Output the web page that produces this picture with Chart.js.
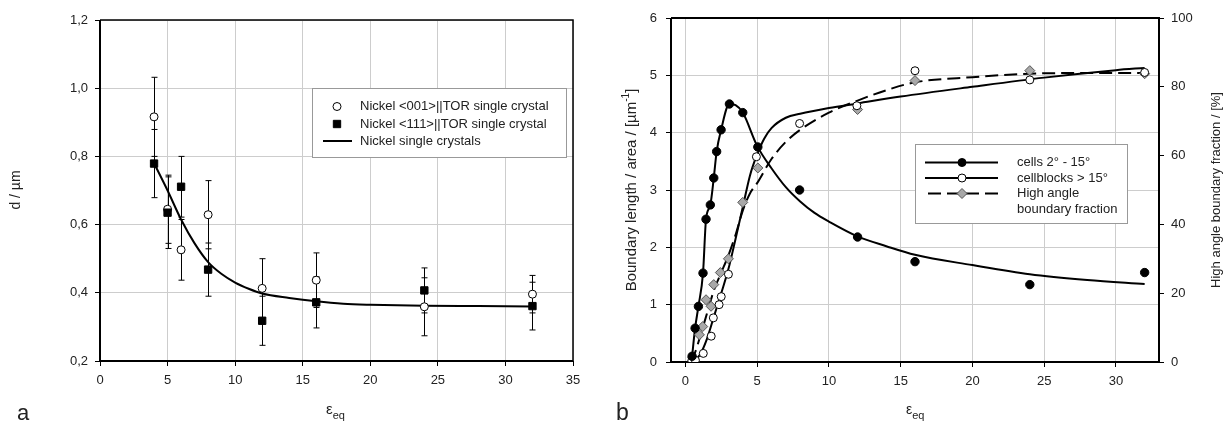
<!DOCTYPE html>
<html><head><meta charset="utf-8">
<script src="https://cdn.jsdelivr.net/npm/chart.js@4.4.1/dist/chart.umd.min.js"></script>
<style>
html,body{margin:0;padding:0;background:#fff;}
#wrap{position:relative;width:1223px;height:426px;overflow:hidden;}
.pane{position:absolute;top:0;}
</style></head><body>
<div id="wrap">
  <div class="pane" style="left:0;width:600px;height:426px"><canvas id="ca" width="600" height="426"></canvas></div>
  <div class="pane" style="left:600px;width:623px;height:426px"><canvas id="cb" width="623" height="426"></canvas></div>
</div>
<script>
// ---------------- Panel a data ----------------
const aX = [4, 5, 6, 8, 12, 16, 24, 32];
const aD001 = [0.916, 0.645, 0.526, 0.629, 0.413, 0.437, 0.359, 0.396];
const aErr001 = [0.116, 0.100, 0.089, 0.100, 0.087, 0.080, 0.085, 0.055];
const aD111 = [0.779, 0.635, 0.711, 0.468, 0.318, 0.372, 0.407, 0.361];
const aErr111 = [0.100, 0.105, 0.089, 0.078, 0.072, 0.075, 0.066, 0.070];
const aFitX = [4, 5, 6, 7, 8, 9, 10, 11, 12, 14, 16, 18, 20, 24, 28, 32];
const aFitD = [0.78, 0.70, 0.615, 0.545, 0.49, 0.455, 0.43, 0.412, 0.398, 0.385, 0.375, 0.368, 0.365, 0.362, 0.361, 0.36];
const aXTicks = [0, 5, 10, 15, 20, 25, 30, 35];
const aYTicks = [0.2, 0.4, 0.6, 0.8, 1.0, 1.2];

// ---------------- Panel b data ----------------
const bCellsX = [0.47, 0.68, 0.91, 1.23, 1.44, 1.74, 1.98, 2.18, 2.49, 3.07, 4.0, 5.05, 7.96, 12.0, 16.0, 24.0, 32.0];
const bCellsY = [0.10, 0.59, 0.97, 1.55, 2.49, 2.74, 3.21, 3.67, 4.05, 4.50, 4.35, 3.75, 3.00, 2.18, 1.75, 1.35, 1.56];
const bCellsLineX = [0.47, 0.68, 0.91, 1.23, 1.44, 1.74, 1.98, 2.18, 2.49, 3.07, 3.5, 4.0, 5.0, 6.0, 7.0, 8.0, 9.0, 10, 12, 14, 16, 20, 24, 28, 32];
const bCellsLineY = [0.10, 0.59, 0.97, 1.55, 2.49, 2.74, 3.21, 3.67, 4.05, 4.50, 4.48, 4.35, 3.77, 3.38, 3.05, 2.80, 2.60, 2.45, 2.19, 2.02, 1.87, 1.69, 1.53, 1.43, 1.36];
const bBlocksX = [0.45, 0.7, 1.25, 1.8, 1.95, 2.35, 2.5, 3.0, 4.95, 7.96, 11.95, 16.0, 24.0, 32.0];
const bBlocksY = [0.02, 0.03, 0.15, 0.45, 0.77, 1.0, 1.14, 1.53, 3.58, 4.16, 4.47, 5.08, 4.92, 5.05];
const bBlocksLineX = [0.45, 1.0, 1.5, 2.0, 2.5, 3.0, 3.5, 4.0, 4.5, 5.0, 5.5, 6.0, 7.0, 8.0, 10, 12, 15, 20, 25, 30, 32];
const bBlocksLineY = [0.0, 0.12, 0.40, 0.80, 1.20, 1.62, 2.15, 2.70, 3.25, 3.62, 3.90, 4.08, 4.26, 4.33, 4.43, 4.51, 4.63, 4.80, 4.96, 5.09, 5.13];
const bHabX = [0.51, 0.98, 1.21, 1.44, 1.79, 1.98, 2.44, 3.0, 4.0, 5.05, 12.0, 16.0, 24.0, 32.0];
const bHabY = [1.2, 7.9, 10.3, 18.1, 16.2, 22.5, 26.0, 30.0, 46.4, 56.4, 73.4, 81.8, 84.7, 83.8];
const bHabLineX = [0.4, 0.7, 1.0, 1.5, 2.0, 2.5, 3.0, 3.5, 4.0, 4.5, 5.0, 6.0, 7.0, 8.0, 10, 12, 14, 16, 20, 24, 28, 32];
const bHabLineY = [0, 3, 7, 14, 21, 26, 31, 37, 44, 49, 52, 59, 64, 67.5, 72.5, 76, 79, 81.3, 82.8, 83.8, 84, 84];
const bXTicks = [0, 5, 10, 15, 20, 25, 30];
const bYTicks = [0, 1, 2, 3, 4, 5, 6];
const bY2Ticks = [0, 20, 40, 60, 80, 100];

const FONT = "'Liberation Sans', Arial, Helvetica, sans-serif";
const TXT = '#222';
const pts = (xs, ys) => xs.map((x, i) => ({x: x, y: ys[i]}));
const setTicks = arr => (s => { s.ticks = arr.map(v => ({value: v})); });

// error bars
const errorBars = {
  id: 'errorBars',
  beforeDatasetsDraw(chart) {
    const ctx = chart.ctx, x = chart.scales.x, y = chart.scales.y;
    ctx.save(); ctx.strokeStyle = '#000'; ctx.lineWidth = 1;
    chart.data.datasets.forEach(ds => {
      if (!ds.errs) return;
      ds.data.forEach((p, i) => {
        const px = Math.round(x.getPixelForValue(p.x)) + 0.5;
        const t = y.getPixelForValue(p.y + ds.errs[i]);
        const b = y.getPixelForValue(p.y - ds.errs[i]);
        ctx.beginPath();
        ctx.moveTo(px, t); ctx.lineTo(px, b);
        ctx.moveTo(px - 3, t); ctx.lineTo(px + 3, t);
        ctx.moveTo(px - 3, b); ctx.lineTo(px + 3, b);
        ctx.stroke();
      });
    });
    ctx.restore();
  }
};

function frame(thinTR) {
  return {
    id: 'frame',
    beforeDatasetsDraw(chart) {
      const ctx = chart.ctx, a = chart.chartArea;
      ctx.save(); ctx.strokeStyle = '#000';
      ctx.lineWidth = thinTR ? 1.5 : 2;
      ctx.beginPath();
      ctx.moveTo(a.left, a.top); ctx.lineTo(a.right, a.top); ctx.lineTo(a.right, a.bottom);
      ctx.stroke();
      ctx.lineWidth = 2;
      ctx.beginPath();
      ctx.moveTo(a.left, a.top); ctx.lineTo(a.left, a.bottom); ctx.lineTo(a.right, a.bottom);
      ctx.stroke();
      ctx.restore();
    }
  };
}

function drawParts(ctx, x, y, parts, rotate, center) {
  ctx.save();
  ctx.translate(x, y);
  if (rotate) ctx.rotate(-Math.PI / 2);
  ctx.textBaseline = 'middle';
  ctx.textAlign = 'left';
  ctx.fillStyle = TXT;
  let total = 0;
  parts.forEach(p => { ctx.font = p.font; total += ctx.measureText(p.text).width; });
  let cx = center ? -total / 2 : 0;
  parts.forEach(p => { ctx.font = p.font; ctx.fillText(p.text, cx, p.dy || 0); cx += ctx.measureText(p.text).width; });
  ctx.restore();
}

function drawMarker(ctx, style, x, y, r, fill, stroke) {
  ctx.save();
  ctx.fillStyle = fill; ctx.strokeStyle = stroke; ctx.lineWidth = 1;
  ctx.beginPath();
  if (style === 'circle') { ctx.arc(x, y, r, 0, Math.PI * 2); }
  else if (style === 'rect') { const s = r * Math.SQRT1_2; ctx.rect(x - s, y - s, 2 * s, 2 * s); }
  else if (style === 'rectRot') { ctx.moveTo(x, y - r); ctx.lineTo(x + r, y); ctx.lineTo(x, y + r); ctx.lineTo(x - r, y); ctx.closePath(); }
  ctx.fill(); ctx.stroke();
  ctx.restore();
}

// ---------- Panel a texts & legend ----------
const textsA = {
  id: 'textsA',
  afterDraw(chart) {
    const ctx = chart.ctx;
    drawParts(ctx, 16, 190, [{text: 'd / µm', font: '14px ' + FONT}], true, true);
    drawParts(ctx, 326, 410, [{text: 'ε', font: '15px ' + FONT}, {text: 'eq', font: '11px ' + FONT, dy: 6}], false, false);
    drawParts(ctx, 17, 414, [{text: 'a', font: '22px ' + FONT}], false, false);
    // legend
    ctx.save();
    ctx.fillStyle = '#fff'; ctx.strokeStyle = '#999'; ctx.lineWidth = 1;
    ctx.fillRect(312, 88, 255, 70); ctx.strokeRect(312.5, 88.5, 254, 69);
    ctx.restore();
    drawMarker(ctx, 'circle', 337, 106.5, 4, '#fff', '#000');
    drawMarker(ctx, 'rect', 337, 124, 5.2, '#000', '#000');
    ctx.save(); ctx.strokeStyle = '#000'; ctx.lineWidth = 2;
    ctx.beginPath(); ctx.moveTo(323, 141); ctx.lineTo(352, 141); ctx.stroke(); ctx.restore();
    const f = '13px ' + FONT;
    drawParts(ctx, 360, 106.5, [{text: 'Nickel <001>||TOR single crystal', font: f}], false, false);
    drawParts(ctx, 360, 124, [{text: 'Nickel <111>||TOR single crystal', font: f}], false, false);
    drawParts(ctx, 360, 141, [{text: 'Nickel single crystals', font: f}], false, false);
  }
};

// ---------- Panel b texts & legend ----------
const textsB = {
  id: 'textsB',
  afterDraw(chart) {
    const ctx = chart.ctx;
    drawParts(ctx, 32, 190, [
      {text: 'Boundary length / area / [µm', font: '15px ' + FONT},
      {text: '-1', font: '10px ' + FONT, dy: -6},
      {text: ']', font: '15px ' + FONT}], true, true);
    drawParts(ctx, 616, 190, [{text: 'High angle boundary fraction / [%]', font: '13px ' + FONT}], true, true);
    drawParts(ctx, 306, 410, [{text: 'ε', font: '14px ' + FONT}, {text: 'eq', font: '11px ' + FONT, dy: 6}], false, false);
    drawParts(ctx, 16, 414, [{text: 'b', font: '23px ' + FONT}], false, false);
    // legend
    ctx.save();
    ctx.fillStyle = '#fff'; ctx.strokeStyle = '#999'; ctx.lineWidth = 1;
    ctx.fillRect(315, 144, 213, 80); ctx.strokeRect(315.5, 144.5, 212, 79);
    ctx.strokeStyle = '#000'; ctx.lineWidth = 2;
    ctx.beginPath(); ctx.moveTo(325, 162.5); ctx.lineTo(398, 162.5); ctx.stroke();
    ctx.beginPath(); ctx.moveTo(325, 178); ctx.lineTo(398, 178); ctx.stroke();
    ctx.setLineDash([13, 6]);
    ctx.beginPath(); ctx.moveTo(328, 193.5); ctx.lineTo(398, 193.5); ctx.stroke();
    ctx.restore();
    drawMarker(ctx, 'circle', 362, 162.5, 4, '#000', '#000');
    drawMarker(ctx, 'circle', 362, 178, 4, '#fff', '#000');
    drawMarker(ctx, 'rectRot', 362, 193.5, 5, '#a8a8a8', '#555');
    const f = '13px ' + FONT;
    drawParts(ctx, 417, 162.5, [{text: 'cells 2° - 15°', font: f}], false, false);
    drawParts(ctx, 417, 178, [{text: 'cellblocks > 15°', font: f}], false, false);
    drawParts(ctx, 417, 193.5, [{text: 'High angle', font: f}], false, false);
    drawParts(ctx, 417, 209, [{text: 'boundary fraction', font: f}], false, false);
  }
};

const tickFont = {family: FONT, size: 13};
const gridCfg = {color: '#cdcdcd', lineWidth: 1, tickColor: '#000', tickLength: 5, tickWidth: 1};

new Chart(document.getElementById('ca'), {
  type: 'scatter',
  data: {datasets: [
    {label: 'Nickel <111>||TOR single crystal', data: pts(aX, aD111), errs: aErr111, pointStyle: 'rect', pointRadius: 5.2,
     backgroundColor: '#000', borderColor: '#000', borderWidth: 1, showLine: false},
    {label: 'Nickel <001>||TOR single crystal', data: pts(aX, aD001), errs: aErr001, pointStyle: 'circle', pointRadius: 4,
     backgroundColor: '#fff', borderColor: '#000', borderWidth: 1, showLine: false},
    {label: 'Nickel single crystals', data: pts(aFitX, aFitD), showLine: true, pointRadius: 0, borderColor: '#000',
     borderWidth: 2, cubicInterpolationMode: 'monotone', fill: false}
  ]},
  options: {
    responsive: false, animation: false, events: [],
    layout: {padding: {left: 0, right: 27, top: 20, bottom: 0}},
    plugins: {legend: {display: false}, tooltip: {enabled: false}},
    scales: {
      x: {type: 'linear', min: 0, max: 35, afterBuildTicks: setTicks(aXTicks), afterFit: s => { s.height = 65; },
          grid: gridCfg, border: {display: false},
          ticks: {font: tickFont, color: TXT, padding: 7, maxRotation: 0, autoSkip: false, callback: v => String(v)}},
      y: {type: 'linear', min: 0.2, max: 1.2, afterBuildTicks: setTicks(aYTicks), afterFit: s => { s.width = 100; },
          grid: gridCfg, border: {display: false},
          ticks: {font: tickFont, color: TXT, padding: 7, autoSkip: false, callback: v => v.toFixed(1).replace('.', ',')}}
    }
  },
  plugins: [errorBars, frame(true), textsA]
});

new Chart(document.getElementById('cb'), {
  type: 'scatter',
  data: {datasets: [
    {label: 'cells 2° - 15°', data: pts(bCellsX, bCellsY), pointStyle: 'circle', pointRadius: 4.2,
     backgroundColor: '#000', borderColor: '#000', borderWidth: 1, showLine: false},
    {label: 'cellblocks > 15°', data: pts(bBlocksX, bBlocksY), pointStyle: 'circle', pointRadius: 4,
     backgroundColor: '#fff', borderColor: '#000', borderWidth: 1, showLine: false},
    {label: 'High angle boundary fraction', data: pts(bHabX, bHabY), yAxisID: 'y2', pointStyle: 'rectRot', pointRadius: 5,
     backgroundColor: '#a8a8a8', borderColor: '#555', borderWidth: 1, showLine: false},
    {label: 'cells line', data: pts(bCellsLineX, bCellsLineY), showLine: true, pointRadius: 0, borderColor: '#000',
     borderWidth: 2, cubicInterpolationMode: 'monotone'},
    {label: 'cellblocks line', data: pts(bBlocksLineX, bBlocksLineY), showLine: true, pointRadius: 0, borderColor: '#000',
     borderWidth: 2, cubicInterpolationMode: 'monotone'},
    {label: 'HAB line', data: pts(bHabLineX, bHabLineY), yAxisID: 'y2', showLine: true, pointRadius: 0, borderColor: '#000',
     borderWidth: 2, borderDash: [13, 6], cubicInterpolationMode: 'monotone'}
  ]},
  options: {
    responsive: false, animation: false, events: [],
    layout: {padding: {left: 0, right: 0, top: 18, bottom: 0}},
    plugins: {legend: {display: false}, tooltip: {enabled: false}},
    scales: {
      x: {type: 'linear', min: -1, max: 33, afterBuildTicks: setTicks(bXTicks), afterFit: s => { s.height = 64; },
          grid: gridCfg, border: {display: false},
          ticks: {font: tickFont, color: TXT, padding: 7, maxRotation: 0, autoSkip: false, callback: v => String(v)}},
      y: {type: 'linear', position: 'left', min: 0, max: 6, afterBuildTicks: setTicks(bYTicks), afterFit: s => { s.width = 71; },
          grid: gridCfg, border: {display: false},
          ticks: {font: tickFont, color: TXT, padding: 9, autoSkip: false, callback: v => String(v)}},
      y2: {type: 'linear', position: 'right', min: 0, max: 100, afterBuildTicks: setTicks(bY2Ticks), afterFit: s => { s.width = 64; },
          grid: {drawOnChartArea: false, color: '#000', tickColor: '#000', tickLength: 5, tickWidth: 1}, border: {display: false},
          ticks: {font: tickFont, color: TXT, padding: 7, autoSkip: false, callback: v => String(v)}}
    }
  },
  plugins: [frame(false), textsB]
});
</script>
</body></html>
